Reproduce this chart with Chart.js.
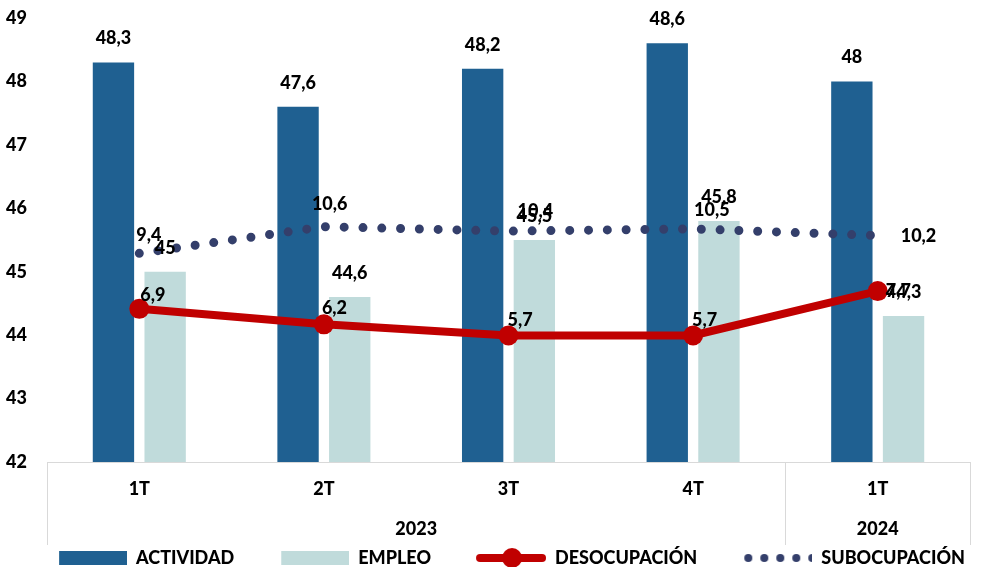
<!DOCTYPE html>
<html>
<head>
<meta charset="utf-8">
<script src="https://cdn.jsdelivr.net/npm/chart.js@4.4.1/dist/chart.umd.min.js"></script>
<style>
html, body { margin: 0; padding: 0; background: #fff; overflow: hidden; }
#wrap { width: 1026px; height: 567px; }
</style>
</head>
<body>
<div id="wrap"><canvas id="grafico" width="1026" height="567"></canvas></div>
<script>
// datos
const trimestres = ['1T', '2T', '3T', '4T', '1T'];
const anios = ['2023', '2023', '2023', '2023', '2024'];
const actividad = [48.3, 47.6, 48.2, 48.6, 48];
const empleo = [45, 44.6, 45.5, 45.8, 44.3];
const desocupacion = [6.9, 6.2, 5.7, 5.7, 7.7];
const subocupacion = [9.4, 10.6, 10.4, 10.5, 10.2];
const ejeIzq = [42, 43, 44, 45, 46, 47, 48, 49];
const ejeDer = [0, 2, 4, 6, 8, 10, 12, 14, 16, 18, 20];

const AZUL = '#1F6091';
const CELESTE = '#C0DBDB';
const ROJO = '#C00000';
const NAVY = '#343F6B';
const GRIS = '#D9D9D9';
const FUENTE = '900 18px Lato, "Open Sans", sans-serif';

Chart.defaults.font.family = 'Lato, "Open Sans", sans-serif';
Chart.defaults.font.weight = '900';
Chart.defaults.font.size = 18;
Chart.defaults.color = '#000';

const fmt = v => String(v).replace('.', ',');

// iconos de leyenda
function icono(tipo, color) {
    const c = document.createElement('canvas');
    c.width = 110; c.height = 24;
    const g = c.getContext('2d');
    g.fillStyle = color; g.strokeStyle = color;
    if (tipo === 'barra') {
        g.fillRect(42, 5, 68, 14);
    } else if (tipo === 'linea') {
        g.lineWidth = 8; g.lineCap = 'round';
        g.beginPath(); g.moveTo(44, 12); g.lineTo(106, 12); g.stroke();
        g.beginPath(); g.arc(76, 12, 10, 0, Math.PI * 2); g.fill();
    } else {
        for (let i = 0; i < 5; i++) {
            g.beginPath(); g.arc(46 + i * 16, 12, 4, 0, Math.PI * 2); g.fill();
        }
    }
    return c;
}
const iconos = [icono('barra', AZUL), icono('barra', CELESTE), icono('linea', ROJO), icono('puntos', NAVY)];

// etiquetas de datos
const etiquetas = {
    id: 'etiquetas',
    afterDatasetsDraw(chart) {
        const ctx = chart.ctx;
        ctx.save();
        ctx.font = FUENTE;
        ctx.fillStyle = '#000';
        ctx.textBaseline = 'middle';
        chart.data.datasets.forEach((ds, di) => {
            const meta = chart.getDatasetMeta(di);
            meta.data.forEach((el, i) => {
                const off = ds.offsets[i];
                ctx.textAlign = off[2] || 'center';
                ctx.fillText(fmt(ds.data[i]), el.x + off[0], el.y + off[1]);
            });
        });
        ctx.restore();
    }
};

// eje de categorias en dos niveles
const ejeAnios = {
    id: 'ejeAnios',
    afterDraw(chart) {
        const x = chart.scales.x;
        const ctx = chart.ctx;
        const top = x.top, bottom = 545;
        const paso = x.getPixelForValue(1) - x.getPixelForValue(0);
        ctx.save();
        ctx.strokeStyle = GRIS; ctx.lineWidth = 1;
        const linea = px => { ctx.beginPath(); ctx.moveTo(Math.round(px) + 0.5, top); ctx.lineTo(Math.round(px) + 0.5, bottom); ctx.stroke(); };
        linea(x.left);
        let ini = 0;
        ctx.font = FUENTE;
        ctx.fillStyle = '#000'; ctx.textAlign = 'center'; ctx.textBaseline = 'middle';
        for (let i = 1; i <= anios.length; i++) {
            if (i === anios.length || anios[i] !== anios[ini]) {
                const cx = (x.getPixelForValue(ini) + x.getPixelForValue(i - 1)) / 2;
                ctx.fillText(anios[ini], cx, 529);
                linea(x.getPixelForValue(i - 1) + paso / 2);
                ini = i;
            }
        }
        ctx.restore();
    }
};

const ajusteY = ancho => s => { s.width = ancho; s.paddingTop = 0; s.paddingBottom = 0; };

new Chart(document.getElementById('grafico'), {
    data: {
        labels: trimestres,
        datasets: [
            {
                type: 'bar', label: 'ACTIVIDAD', data: actividad, yAxisID: 'y',
                backgroundColor: AZUL, order: 2,
                categoryPercentage: 0.56, barPercentage: 0.8,
                offsets: [[0, -24], [0, -24], [0, -24], [0, -24], [0, -24]]
            },
            {
                type: 'bar', label: 'EMPLEO', data: empleo, yAxisID: 'y',
                backgroundColor: CELESTE, order: 2,
                categoryPercentage: 0.56, barPercentage: 0.8,
                offsets: [[0, -24], [0, -24], [0, -24], [0, -24], [0, -24]]
            },
            {
                type: 'line', label: 'DESOCUPACIÓN', data: desocupacion, yAxisID: 'y1',
                borderColor: ROJO, backgroundColor: ROJO, borderWidth: 8,
                pointRadius: 10, pointHoverRadius: 10, pointBorderWidth: 0,
                pointBackgroundColor: ROJO, tension: 0, order: 1,
                offsets: [[1, -14, 'left'], [-2, -16, 'left'], [-1, -15, 'left'], [-1, -15, 'left'], [8, 0, 'left']]
            },
            {
                type: 'line', label: 'SUBOCUPACIÓN', data: subocupacion, yAxisID: 'y1',
                borderColor: NAVY, backgroundColor: NAVY, borderWidth: 9,
                borderDash: [0, 18.8], borderCapStyle: 'round',
                pointRadius: 0, tension: 0, order: 1,
                offsets: [[-3, -18, 'left'], [-12, -22, 'left'], [9, -20, 'left'], [1, -19, 'left'], [23, 1, 'left']]
            }
        ]
    },
    options: {
        responsive: false,
        animation: false,
        layout: { padding: { top: 18, left: 0, right: 44, bottom: -10 } },
        scales: {
            x: {
                grid: { display: false, drawTicks: false },
                border: { display: true, color: GRIS, width: 1 },
                ticks: { padding: 16 },
                afterFit: s => { s.height = 82; }
            },
            y: {
                position: 'left',
                min: ejeIzq[0], max: ejeIzq[ejeIzq.length - 1],
                afterBuildTicks: s => { s.ticks = ejeIzq.map(v => ({ value: v })); },
                grid: { display: false, drawTicks: false },
                border: { display: false },
                ticks: { padding: 20 },
                afterFit: ajusteY(47)
            },
            y1: {
                position: 'right',
                min: ejeDer[0], max: ejeDer[ejeDer.length - 1],
                afterBuildTicks: s => { s.ticks = ejeDer.map(v => ({ value: v })); },
                grid: { display: false, drawTicks: false },
                border: { display: false },
                ticks: { padding: 20 },
                afterFit: ajusteY(12)
            }
        },
        plugins: {
            tooltip: { enabled: false },
            legend: {
                position: 'bottom',
                labels: {
                    usePointStyle: true,
                    pointStyleWidth: 110,
                    boxHeight: 18,
                    padding: 5,
                    font: { size: 18, weight: '900' },
                    generateLabels: chart => chart.data.datasets.map((ds, i) => ({
                        text: ds.label,
                        pointStyle: iconos[i],
                        fillStyle: ds.backgroundColor,
                        strokeStyle: ds.backgroundColor,
                        lineWidth: 0,
                        datasetIndex: i,
                        hidden: false
                    }))
                }
            }
        }
    },
    plugins: [etiquetas, ejeAnios]
});
</script>
</body>
</html>
